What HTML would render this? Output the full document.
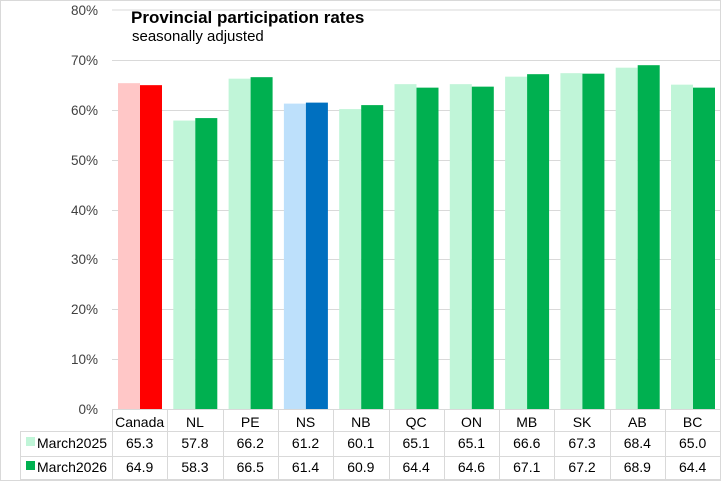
<!DOCTYPE html>
<html><head><style>
body{margin:0;background:#fff}
svg{display:block;font-family:"Liberation Sans",sans-serif}
</style></head><body>
<svg width="721" height="481" viewBox="0 0 721 481">
<rect x="0.5" y="0.5" width="720" height="480" fill="#fff" stroke="#d9d9d9"/>
<g stroke="#d9d9d9" stroke-width="1">
<line x1="112" y1="10" x2="720" y2="10"/>
<line x1="112" y1="60.5" x2="720" y2="60.5"/>
<line x1="112" y1="110.5" x2="720" y2="110.5"/>
<line x1="112" y1="160.5" x2="720" y2="160.5"/>
<line x1="112" y1="210.5" x2="720" y2="210.5"/>
<line x1="112" y1="259.5" x2="720" y2="259.5"/>
<line x1="112" y1="309.5" x2="720" y2="309.5"/>
<line x1="112" y1="359.5" x2="720" y2="359.5"/>
</g>
<g font-size="13.5" fill="#404040" text-anchor="end">
<text x="98" y="15">80%</text><text x="98" y="65">70%</text><text x="98" y="115">60%</text>
<text x="98" y="165">50%</text><text x="98" y="215">40%</text><text x="98" y="264">30%</text>
<text x="98" y="314">20%</text><text x="98" y="364">10%</text><text x="98" y="414">0%</text>
</g>
<text x="131" y="23" font-size="17" font-weight="bold" fill="#000">Provincial participation rates</text>
<text x="132" y="41" font-size="15" fill="#000">seasonally adjusted</text>
<g id="bars"></g>
<g stroke="#d9d9d9" fill="none">
<line x1="112" y1="409.5" x2="720" y2="409.5"/>
<line x1="20" y1="431.5" x2="720" y2="431.5"/>
<line x1="20" y1="456.5" x2="720" y2="456.5"/>
<line x1="20" y1="479.5" x2="720" y2="479.5"/>
<line x1="20.5" y1="431" x2="20.5" y2="480"/>
<line x1="112.5" y1="409" x2="112.5" y2="480"/>
</g>
<g id="tbl"></g>
<rect x="26" y="437" width="9" height="9" fill="#c0f5d8"/>
<text x="37" y="448" font-size="14" fill="#000">March2025</text>
<rect x="26" y="461" width="9" height="9" fill="#00b050"/>
<text x="37" y="472" font-size="14" fill="#000">March2026</text>
<script>
var cats=["Canada","NL","PE","NS","NB","QC","ON","MB","SK","AB","BC"];
var a=[65.3,57.8,66.2,61.2,60.1,65.1,65.1,66.6,67.3,68.4,65.0];
var b=[64.9,58.3,66.5,61.4,60.9,64.4,64.6,67.1,67.2,68.9,64.4];
var ns="http://www.w3.org/2000/svg",w=55.3,L=112,z=409,s=4.99;
var g=document.getElementById("bars"),t=document.getElementById("tbl");
function el(p,n,at,tx){var e=document.createElementNS(ns,n);for(var k in at)e.setAttribute(k,at[k]);if(tx)e.textContent=tx;p.appendChild(e);}
for(var i=0;i<11;i++){
 var x=L+i*w,c1="#c0f5d8",c2="#00b050";
 if(i==0){c1="#ffc7c7";c2="#ff0000";} if(i==3){c1="#bde0fb";c2="#0070c0";}
 el(g,"rect",{x:x+6,y:z-a[i]*s,width:22,height:a[i]*s,fill:c1});
 el(g,"rect",{x:x+28,y:z-b[i]*s,width:22,height:b[i]*s,fill:c2});
 var cx=x+w/2;
 el(t,"text",{x:cx,y:427,"font-size":14,"text-anchor":"middle",fill:"#000"},cats[i]);
 el(t,"text",{x:cx,y:448,"font-size":14,"text-anchor":"middle",fill:"#000"},a[i].toFixed(1));
 el(t,"text",{x:cx,y:472,"font-size":14,"text-anchor":"middle",fill:"#000"},b[i].toFixed(1));
 el(t,"line",{x1:Math.round(x+w)+0.5,y1:409,x2:Math.round(x+w)+0.5,y2:480,stroke:"#d9d9d9"});
}
</script>
</svg>
</body></html>
